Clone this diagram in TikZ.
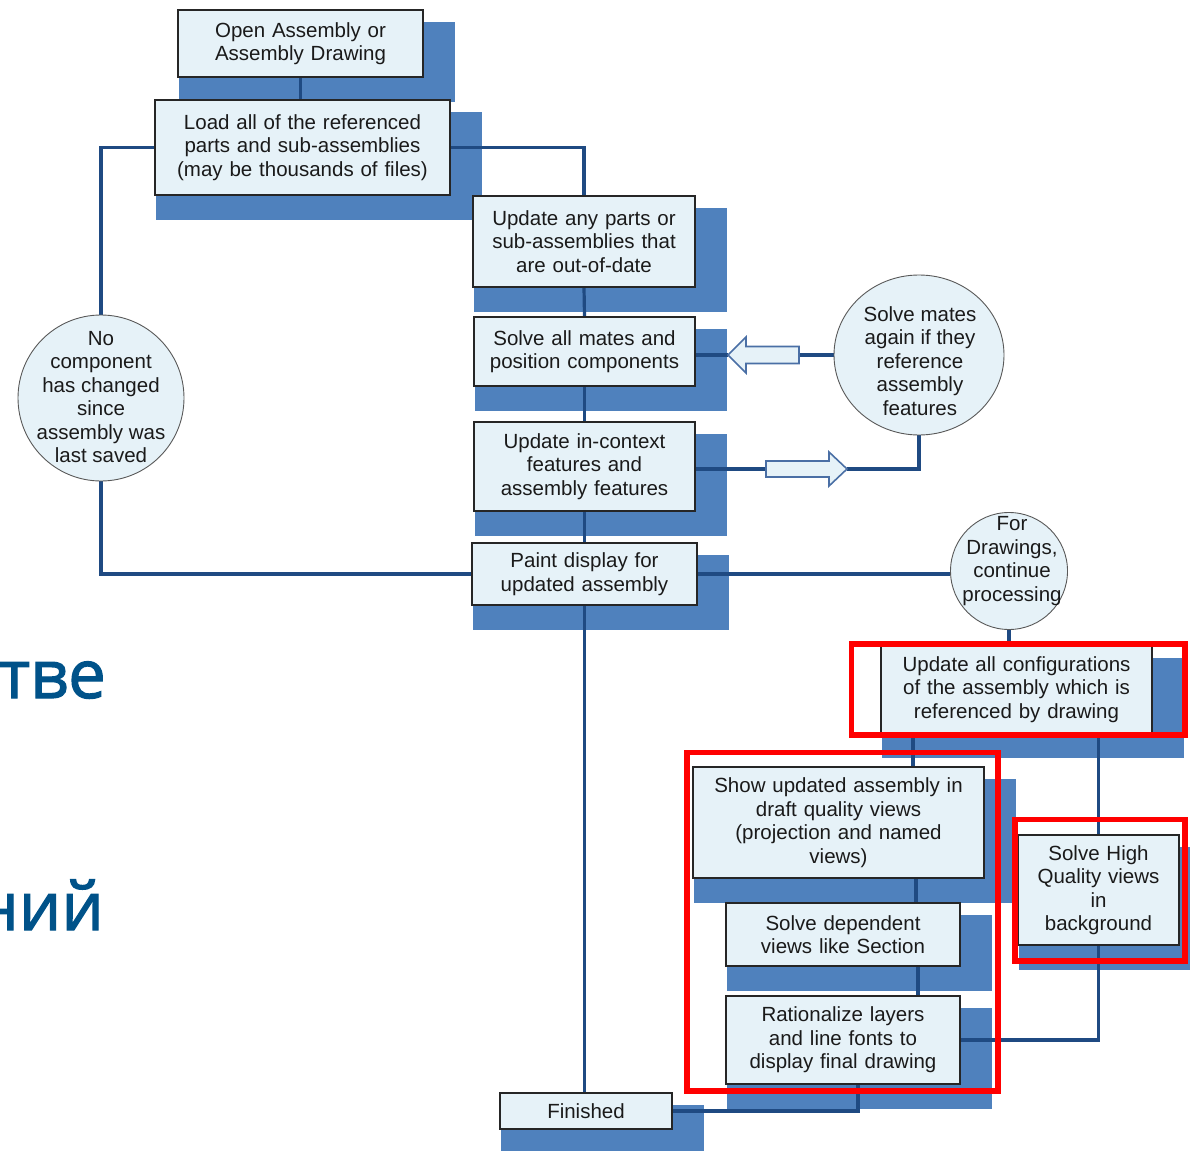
\documentclass[tikz,border=0pt]{standalone}
\usepackage{fontspec}
\setmainfont{Liberation Sans}
\newfontfamily\rusfont[FakeBold=1.8]{Open Sans}
\usetikzlibrary{shapes.geometric,calc}
\definecolor{boxfill}{HTML}{E6F2F8}
\definecolor{shadowblue}{HTML}{4F81BD}
\definecolor{linkblue}{HTML}{1F4A82}
\definecolor{arrowedge}{HTML}{4A6FA5}
\definecolor{txtcol}{HTML}{1A1A1A}
\definecolor{rus}{HTML}{005289}
\pgfdeclarelayer{shadowlayer}
\pgfdeclarelayer{linelayer}
\pgfsetlayers{shadowlayer,linelayer,main}
\newcommand\boxshadow[1]{\fill[shadowblue] ($(#1.north west)+(2,13)$) rectangle ($(#1.south east)+(31,24)$);}
\begin{document}
\begin{tikzpicture}[x=1pt,y=-1pt,
  every node/.style={font=\fontsize{20.5}{23.5}\selectfont, text=txtcol},
  procbox/.style={draw=black!85, line width=1.4pt, fill=boxfill, inner sep=0pt, align=center},
  circbox/.style={circle, draw=black!65, line width=0.9pt, fill=boxfill, inner sep=0pt},
  ellbox/.style={ellipse, draw=black!65, line width=0.9pt, fill=boxfill, inner sep=0pt},
  plaintext/.style={inner sep=0pt, align=center},
  link/.style={draw=linkblue, line width=3.2pt},
  hollowarrow/.style={draw=arrowedge, fill=boxfill, line width=1.6pt, line join=miter},
  highlight/.style={draw=red, line width=5.5pt},
  rustext/.style={anchor=base east, inner sep=0pt, font=\rusfont\fontsize{67}{67}\selectfont, text=rus}]
\useasboundingbox (0,0) rectangle (1190,1150);

% Russian slide text (clipped at the left edge)
\begin{scope}
\clip (0,0) rectangle (300,1150);
\node[rustext] (r1) at (106,698) {тве};
\node[rustext] (r2) at (104,930) {ний};
\end{scope}

% process boxes
\node[procbox, minimum width=245pt, minimum height=67pt, text width=245pt] (n1) at (300.5,43.5) {Open Assembly or\\Assembly Drawing};
\node[procbox, minimum width=295pt, minimum height=95pt, text width=295pt] (n2) at (302.5,147.5) {Load all of the referenced\\parts and sub-assemblies\\(may be thousands of files)};
\node[procbox, minimum width=222pt, minimum height=91pt, text width=222pt] (n3) at (584,241.5) {Update any parts or\\sub-assemblies that\\are out-of-date};
\node[procbox, minimum width=221pt, minimum height=69pt, text width=221pt] (n4) at (584.5,351.5) {Solve all mates and\\position components};
\node[procbox, minimum width=221pt, minimum height=89pt, text width=221pt] (n5) at (584.5,466.5) {Update in-context\\features and\\assembly features};
\node[procbox, minimum width=225pt, minimum height=62pt, text width=225pt] (n6) at (584.5,574) {Paint display for\\updated assembly};
\node[procbox, minimum width=271pt, minimum height=87pt, text width=271pt] (n7) at (1016.5,689.5) {Update all configurations\\of the assembly which is\\referenced by drawing};
\node[procbox, minimum width=291pt, minimum height=111pt, text width=291pt] (n8) at (838.5,822.5) {Show updated assembly in\\draft quality views\\(projection and named\\views)};
\node[procbox, minimum width=234pt, minimum height=63pt, text width=234pt] (n9) at (843,934.5) {Solve dependent\\views like Section};
\node[procbox, minimum width=234pt, minimum height=88pt, text width=234pt] (n10) at (843,1040) {Rationalize layers\\and line fonts to\\display final drawing};
\node[procbox, minimum width=161pt, minimum height=110pt, text width=161pt] (n11) at (1098.5,890) {Solve High\\Quality views\\in\\background};
\node[procbox, minimum width=172pt, minimum height=36pt, text width=172pt] (n12) at (586,1111) {Finished};

% decision / note circles
\node[ellbox, minimum width=170pt, minimum height=160pt] (c1) at (919,355) {};
\node[plaintext] (c1t) at (920,361) {Solve mates\\again if they\\reference\\assembly\\features};
\node[circbox, minimum size=166pt] (c2) at (101,398) {};
\node[plaintext] (c2t) at (101,397) {No\\component\\has changed\\since\\assembly was\\last saved};
\node[circbox, minimum size=117pt] (c3) at (1009,571) {};
\node[plaintext] (c3t) at (1012,561) {For\\Drawings,\\continue\\processing};

% helper coordinates
\coordinate (aLtip) at (728,355);
\coordinate (aLtail) at (799,355);
\coordinate (aRtail) at (766,469);
\coordinate (aRtip) at (847,469);
\coordinate (xA) at (913,0);
\coordinate (xB) at (916,0);
\coordinate (xC) at (918,0);
\coordinate (xD) at (858,0);

% shadows
\begin{pgfonlayer}{shadowlayer}
\foreach \b in {n1,n2,n3,n4,n5,n6,n7,n8,n9,n10,n11,n12} {\boxshadow{\b}}
\end{pgfonlayer}

% connectors
\begin{pgfonlayer}{linelayer}
\draw[link] (n1.south) -- (n1.south |- n2.north);
\draw[link] (n2.east) -| (n3.north);
\draw[link] (n3.south) -- (n4.north);
\draw[link] (n4.south) -- (n5.north);
\draw[link] (n5.south) -- (n6.north);
\draw[link] (n6.south) -- (n6.south |- n12.north);
\draw[link] (n2.west) -| (c2.north);
\draw[link] (c2.south) |- (n6.west);
\draw[link] (aLtip -| n4.east) -- (aLtip);
\draw[link] (aLtail) -- (c1.west);
\draw[link] (aRtail -| n5.east) -- (aRtail);
\draw[link] (aRtip) -| (c1.south);
\draw[link] (n6.east) -- (n6.east -| c3.west);
\draw[link] (c3.south) -- (c3.south |- n7.north);
\draw[link] (xA |- n7.south) -- (xA |- n8.north);
\draw[link] (n11.north |- n7.south) -- (n11.north);
\draw[link] (xB |- n8.south) -- (xB |- n9.north);
\draw[link] (xC |- n9.south) -- (xC |- n10.north);
\draw[link] (n11.south) |- (n10.east);
\draw[link] (xD |- n10.south) |- (n12.east);
\end{pgfonlayer}

% hollow block arrows
\draw[hollowarrow] (aLtip) -- ++(18,-18) -- ++(0,9.5) -- (799,346.5) -- (799,363.5) -- (746,363.5) -- (746,373) -- cycle;
\draw[hollowarrow] (aRtip) -- ++(-18,-17) -- ++(0,9) -- (766,461) -- (766,477) -- (829,477) -- (829,486) -- cycle;

% red highlight frames
\draw[highlight] (851.5,644) rectangle (1185,735);
\draw[highlight] (687,752.5) rectangle (998,1091);
\draw[highlight] (1015,819.5) rectangle (1185,961);
\end{tikzpicture}
\end{document}
